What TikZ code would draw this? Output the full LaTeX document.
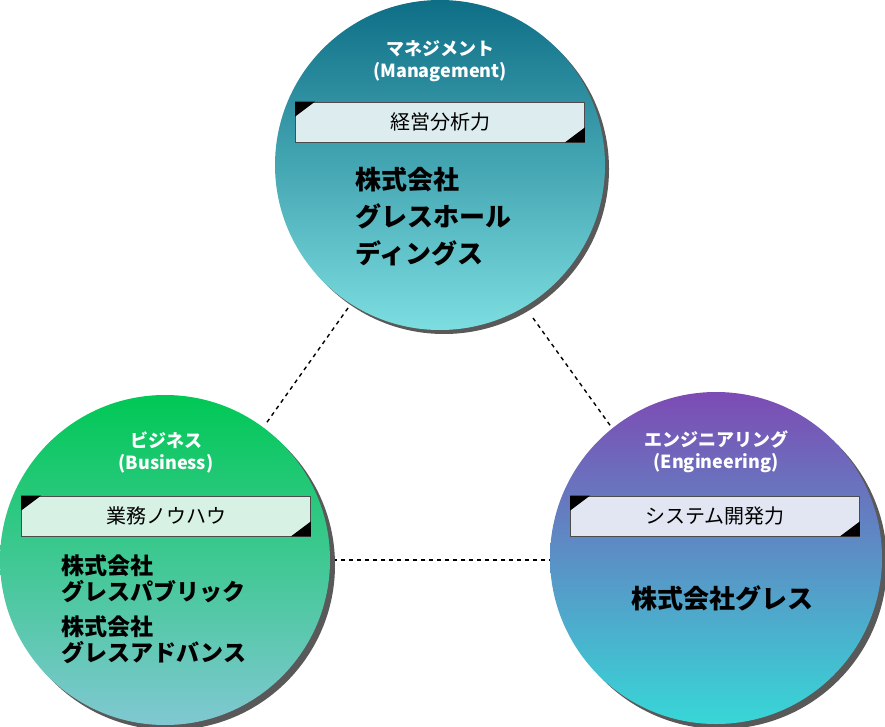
\documentclass[tikz,border=0pt]{standalone}
\usepackage{fontspec}
\setmainfont{Noto Sans CJK JP}
\tikzset{
  x=1pt, y=-1pt,
  % circle with shadow
  unit shadow/.style = {fill=black!65},
  unit circle/.style = {shading=axis, shading angle=0},
  % white heading in circle
  unit title/.style = {text=white, font=\bfseries\fontsize{18}{22}\selectfont, align=center},
  % skill label box
  skill box/.style = {draw=black!70, line width=0.8pt, minimum width=289pt, minimum height=40pt,
    inner sep=0, font=\fontsize{20}{24}\selectfont},
  company/.style = {font=\bfseries\fontsize{26}{37}\selectfont, align=left, anchor=north west},
  link/.style = {dashed, line width=1.4pt, dash pattern=on 4pt off 4pt}
}
\newcommand{\skillcorners}[1]{
  \fill (#1.north west) -- ++(20,0) -- ++(-20,15) -- cycle;
  \fill (#1.south east) -- ++(-20,0) -- ++(20,-15) -- cycle;
}
\begin{document}
\begin{tikzpicture}
  \useasboundingbox (0,0) rectangle (885,727);

  % connectors
  \coordinate (tl-a) at (348,308);
  \coordinate (tl-b) at (265,425);
  \coordinate (tr-a) at (533,318);
  \coordinate (tr-b) at (612,428);
  \coordinate (lr-a) at (333,560);
  \coordinate (lr-b) at (550,560);
  \draw[link] (tl-a) -- (tl-b);
  \draw[link] (tr-a) -- (tr-b);
  \draw[link] (lr-a) -- (lr-b);

  % management
  \fill[unit shadow] (444,169) circle (165);
  \shade[unit circle, top color={rgb,255:red,14;green,110;blue,134}, bottom color={rgb,255:red,124;green,222;blue,224}]
    (440,165) circle (165);
  \node[unit title] (mgmt) at (440,61) {マネジメント\\(Management)};
  \node[skill box, fill={rgb,255:red,220;green,236;blue,239}] (mgmt-skill) at (440,122) {経営分析力};
  \skillcorners{mgmt-skill}
  \node[company] (mgmt-co) at (352,164) {株式会社\\グレスホール\\ディングス};

  % business
  \fill[unit shadow] (170,565) circle (165);
  \shade[unit circle, top color={rgb,255:red,0;green,200;blue,85}, bottom color={rgb,255:red,128;green,200;blue,210}]
    (165,560) circle (165);
  \node[unit title] (biz) at (166,452) {ビジネス\\(Business)};
  \node[skill box, fill={rgb,255:red,215;green,242;blue,228}] (biz-skill) at (166,516) {業務ノウハウ};
  \skillcorners{biz-skill}
  \node[company, font=\bfseries\fontsize{23}{26}\selectfont] (biz-co) at (58,551) {株式会社\\グレスパブリック\\[9pt]株式会社\\グレスアドバンス};

  % engineering
  \fill[unit shadow] (721,563) circle (166);
  \shade[unit circle, top color={rgb,255:red,125;green,75;blue,180}, bottom color={rgb,255:red,55;green,215;blue,215}]
    (716,558) circle (166);
  \node[unit title] (eng) at (716,452) {エンジニアリング\\(Engineering)};
  \node[skill box, fill={rgb,255:red,225;green,230;blue,242}] (eng-skill) at (715,516) {システム開発力};
  \skillcorners{eng-skill}
  \node[font=\bfseries\fontsize{26}{30}\selectfont] (eng-co) at (722,598) {株式会社グレス};
\end{tikzpicture}
\end{document}
